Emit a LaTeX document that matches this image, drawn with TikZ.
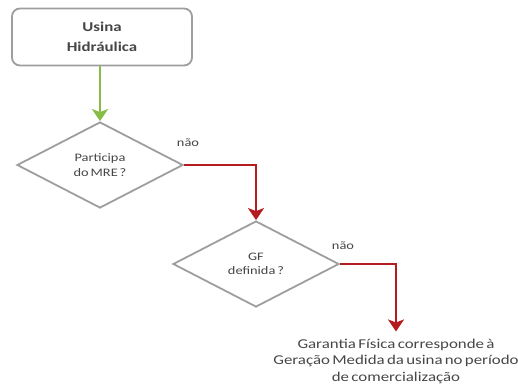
\documentclass[tikz,border=0pt]{standalone}
\usepackage{fontspec}
\setmainfont{Carlito}
\newfontfamily\widefont[FakeStretch=1.25, WordSpace=0.6]{Carlito}
\usetikzlibrary{shapes.geometric,arrows.meta}
\definecolor{bordergray}{RGB}{158,158,158}
\definecolor{arrowgreen}{RGB}{135,188,70}
\definecolor{arrowred}{RGB}{180,28,32}
\definecolor{txtgray}{RGB}{70,70,70}
\tikzset{
  startbox/.style={draw=bordergray, line width=1.8pt, rounded corners=8pt, fill=white,
    minimum width=180pt, minimum height=57pt, align=center,
    font=\widefont\fontsize{13.5}{20}\selectfont\bfseries, text=txtgray},
  decision/.style={draw=bordergray, line width=1.8pt, diamond, aspect=1.95, fill=white,
    minimum width=166pt, minimum height=86pt, inner sep=0pt, align=center,
    font=\widefont\fontsize{11.5}{14.5}\selectfont, text=txtgray},
  greenarrow/.style={draw=arrowgreen, line width=2.8pt, -{Stealth[length=12pt,width=16pt,inset=3pt]}},
  redarrow/.style={draw=arrowred, line width=2.8pt, -{Stealth[length=12pt,width=16pt,inset=3pt]}},
  lbl/.style={font=\widefont\fontsize{11.5}{13}\selectfont, text=txtgray},
  result/.style={align=center, inner ysep=7pt, font=\widefont\fontsize{13.5}{16.5}\selectfont, text=txtgray}
}
\begin{document}
\begin{tikzpicture}[x=1pt,y=-1pt]
\useasboundingbox (0,0) rectangle (518,391);
\node[startbox] (usina) at (102,37) {Usina\\Hidráulica};
\node[decision] (mre) at (100,165) {Participa\\do MRE ?};
\node[decision] (gf) at (256,264) {GF\\definida ?};
\node[result] (res) at (396,361) {Garantia Física corresponde à\\Geração Medida da usina no período\\de comercialização};
\node[lbl] (nao1) at (188,143) {não};
\node[lbl] (nao2) at (343,246) {não};
\draw[greenarrow] (usina.south -| mre.north) -- (mre.north);
\draw[redarrow] (mre.east) -| (gf.north);
\draw[redarrow] (gf.east) -| (res.north);
\end{tikzpicture}
\end{document}
